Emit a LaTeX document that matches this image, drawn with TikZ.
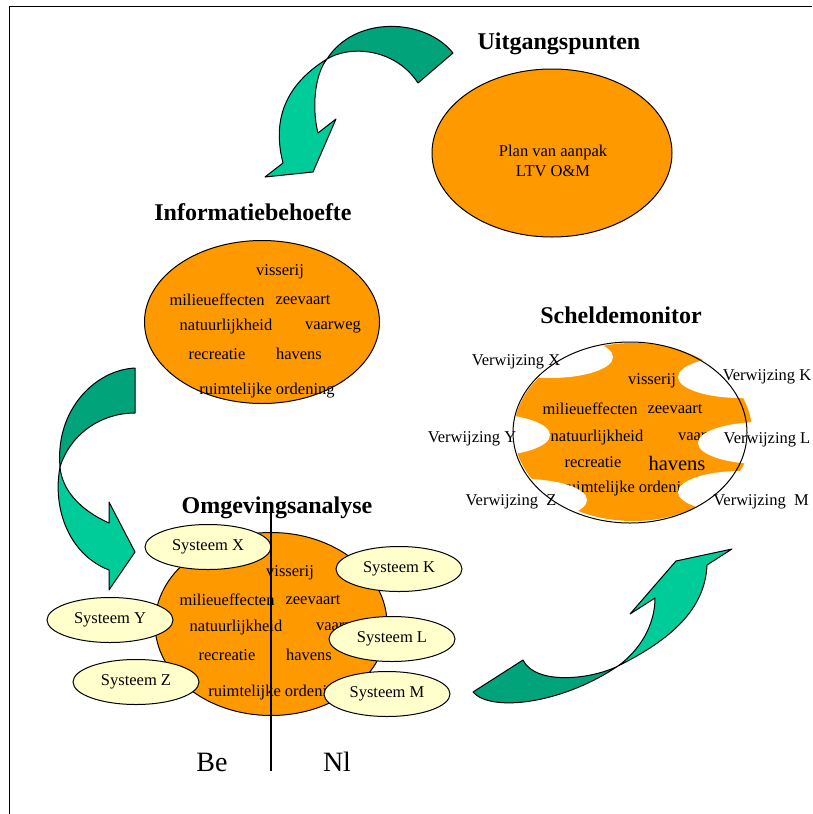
\documentclass[tikz,border=0pt]{standalone}
\usepackage{fontspec}
\setmainfont{Liberation Serif}
\usetikzlibrary{shapes}
\definecolor{oranje}{RGB}{255,153,0}
\definecolor{geel}{RGB}{255,255,204}
\definecolor{groendonker}{RGB}{0,163,122}
\definecolor{groenlicht}{RGB}{0,204,153}
\newcommand{\woordfont}{\fontsize{16.5}{20}\selectfont}
\newcommand{\kopfont}{\fontsize{24}{28}\selectfont\bfseries}
\tikzstyle{blob}=[ellipse,draw,fill=oranje,line width=1pt,inner sep=0pt]
\tikzstyle{systeem}=[ellipse,draw,fill=geel,line width=1pt,minimum width=126pt,minimum height=45pt,inner sep=0pt,font=\woordfont]
\tikzstyle{gat}=[ellipse,fill=white,minimum width=126pt,minimum height=42pt,inner sep=0pt]
\tikzstyle{woord}=[inner sep=0pt,font=\woordfont]
\tikzstyle{kopje}=[inner sep=0pt,font=\kopfont]
\tikzstyle{lintdonker}=[draw,fill=groendonker,line width=1pt,line join=round]
\tikzstyle{lintlicht}=[draw,fill=groenlicht,line width=1pt,line join=round]

\begin{document}
\begin{tikzpicture}[x=1pt, y=-1pt]
    \useasboundingbox (0,0) rectangle (812,814);
    \draw[line width=1pt] (9,814) -- (9,6) -- (812,6);

    % uitgangspunten
    \node[kopje] (kopuit) at (559,44) {Uitgangspunten};
    \node[blob, minimum width=240pt, minimum height=168pt] (plan) at (552,153) {};
    \node[woord, align=center] (plantekst) at (553,161) {Plan van aanpak\\LTV O\&M};

    \path[lintdonker] (453,53) .. controls (425,18) and (355,15) .. (327,59)
        .. controls (350,45) and (395,48) .. (418,83) -- cycle;
    \path[lintlicht] (327,59) .. controls (314,75) and (312,110) .. (318,133)
        -- (336,119) -- (313,172) -- (265,177) -- (283,163)
        .. controls (272,120) and (285,85) .. (327,59) -- cycle;

    % informatiebehoefte
    \node[kopje] (kopinfo) at (253,212) {Informatiebehoefte};
    \node[blob, minimum width=235pt, minimum height=163pt] (info) at (262,322) {};
    \foreach \pos/\name/\txt in {{(280,272)/ivis/visserij}, {(217,300)/imil/milieueffecten}, {(303,300)/izee/zeevaart},
        {(226,327)/inat/natuurlijkheid}, {(333,327)/ivaar/vaarweg}, {(217,354)/irec/recreatie},
        {(299,354)/ihav/havens}, {(267,391)/iruim/ruimtelijke ordening}}
        \node[woord] (\name) at \pos {\txt};

    \path[lintdonker] (135,368) .. controls (95,370) and (55,410) .. (60,467)
        .. controls (70,435) and (100,413) .. (135,413) -- cycle;
    \path[lintlicht] (60,467) .. controls (52,510) and (70,555) .. (109,570)
        -- (109,590) -- (135,552) -- (109,502) -- (109,523)
        .. controls (80,510) and (62,490) .. (60,467) -- cycle;

    % scheldemonitor
    \node[kopje] (kopschelde) at (621,315) {Scheldemonitor};
    \node[ellipse, fill=oranje, minimum width=238pt, minimum height=178pt, inner sep=0pt] (schelde) at (633,432) {};
    \foreach \pos/\name/\txt in {{(652,381)/svis/visserij}, {(590,409)/smil/milieueffecten}, {(675,409)/szee/zeevaart},
        {(597,438)/snat/natuurlijkheid}, {(706,438)/svaar/vaarweg}, {(593,462)/srec/recreatie},
        {(630,489)/sruim/ruimtelijke ordening}}
        \node[woord] (\name) at \pos {\txt};
    \node[inner sep=0pt, font=\fontsize{20.5}{24}\selectfont] (shav) at (677,463) {havens};

    \foreach \pos/\name in {{(550,357)/gx}, {(741,377)/gk}, {(487,435)/gy}, {(761,443)/gl}, {(524,500)/gz}, {(741,492)/gm}}
        \node[gat] (\name) at \pos {};

    \foreach \pos/\name/\txt in {{(516,362)/vx/Verwijzing X}, {(767,377)/vk/Verwijzing K}, {(472,439)/vy/Verwijzing Y},
        {(767,440)/vl/Verwijzing L}, {(511,502)/vz/Verwijzing~~Z}, {(761,502)/vm/Verwijzing~~M}}
        \node[woord] (\name) at \pos {\txt};
    \node[ellipse, draw, line width=1pt, minimum width=234pt, minimum height=181pt, inner sep=0pt] (scheldelijn) at (630,432.5) {};

    % omgevingsanalyse
    \node[kopje] (kopomg) at (277,508) {Omgevingsanalyse};
    \node[blob, minimum width=232pt, minimum height=183pt] (omg) at (271,624) {};
    \foreach \pos/\name/\txt in {{(290,573)/ovis/visserij}, {(227,600)/omil/milieueffecten}, {(313,600)/ozee/zeevaart},
        {(236,628)/onat/natuurlijkheid}, {(344,628)/ovaar/vaarweg}, {(227,655)/orec/recreatie},
        {(309,655)/ohav/havens}, {(276,693)/oruim/ruimtelijke ordening}}
        \node[woord] (\name) at \pos {\txt};

    \foreach \pos/\name/\txt in {{(208,547)/sysx/Systeem X}, {(399,569)/sysk/Systeem K}, {(110,620)/sysy/Systeem Y},
        {(392,639)/sysl/Systeem L}, {(136,682)/sysz/Systeem Z}, {(387,694)/sysm/Systeem M}}
        \node[systeem] (\name) at \pos {\txt};

    \coordinate (grensboven) at (271,508);
    \coordinate (grensonder) at (271,771);
    \draw[line width=1.2pt] (grensboven) -- (grensonder);
    \node[inner sep=0pt, font=\fontsize{28}{32}\selectfont] (be) at (212,762) {Be};
    \node[inner sep=0pt, font=\fontsize{28}{32}\selectfont] (nl) at (337,762) {Nl};

    \path[lintdonker] (473,692) .. controls (490,712) and (560,705) .. (618,666)
        .. controls (590,680) and (535,685) .. (523,660) -- cycle;
    \path[lintlicht] (618,666) .. controls (670,640) and (705,610) .. (707,565)
        -- (732,549) -- (676,561) -- (630,614) -- (655,598)
        .. controls (655,625) and (640,650) .. (618,666) -- cycle;

\end{tikzpicture}
\end{document}
